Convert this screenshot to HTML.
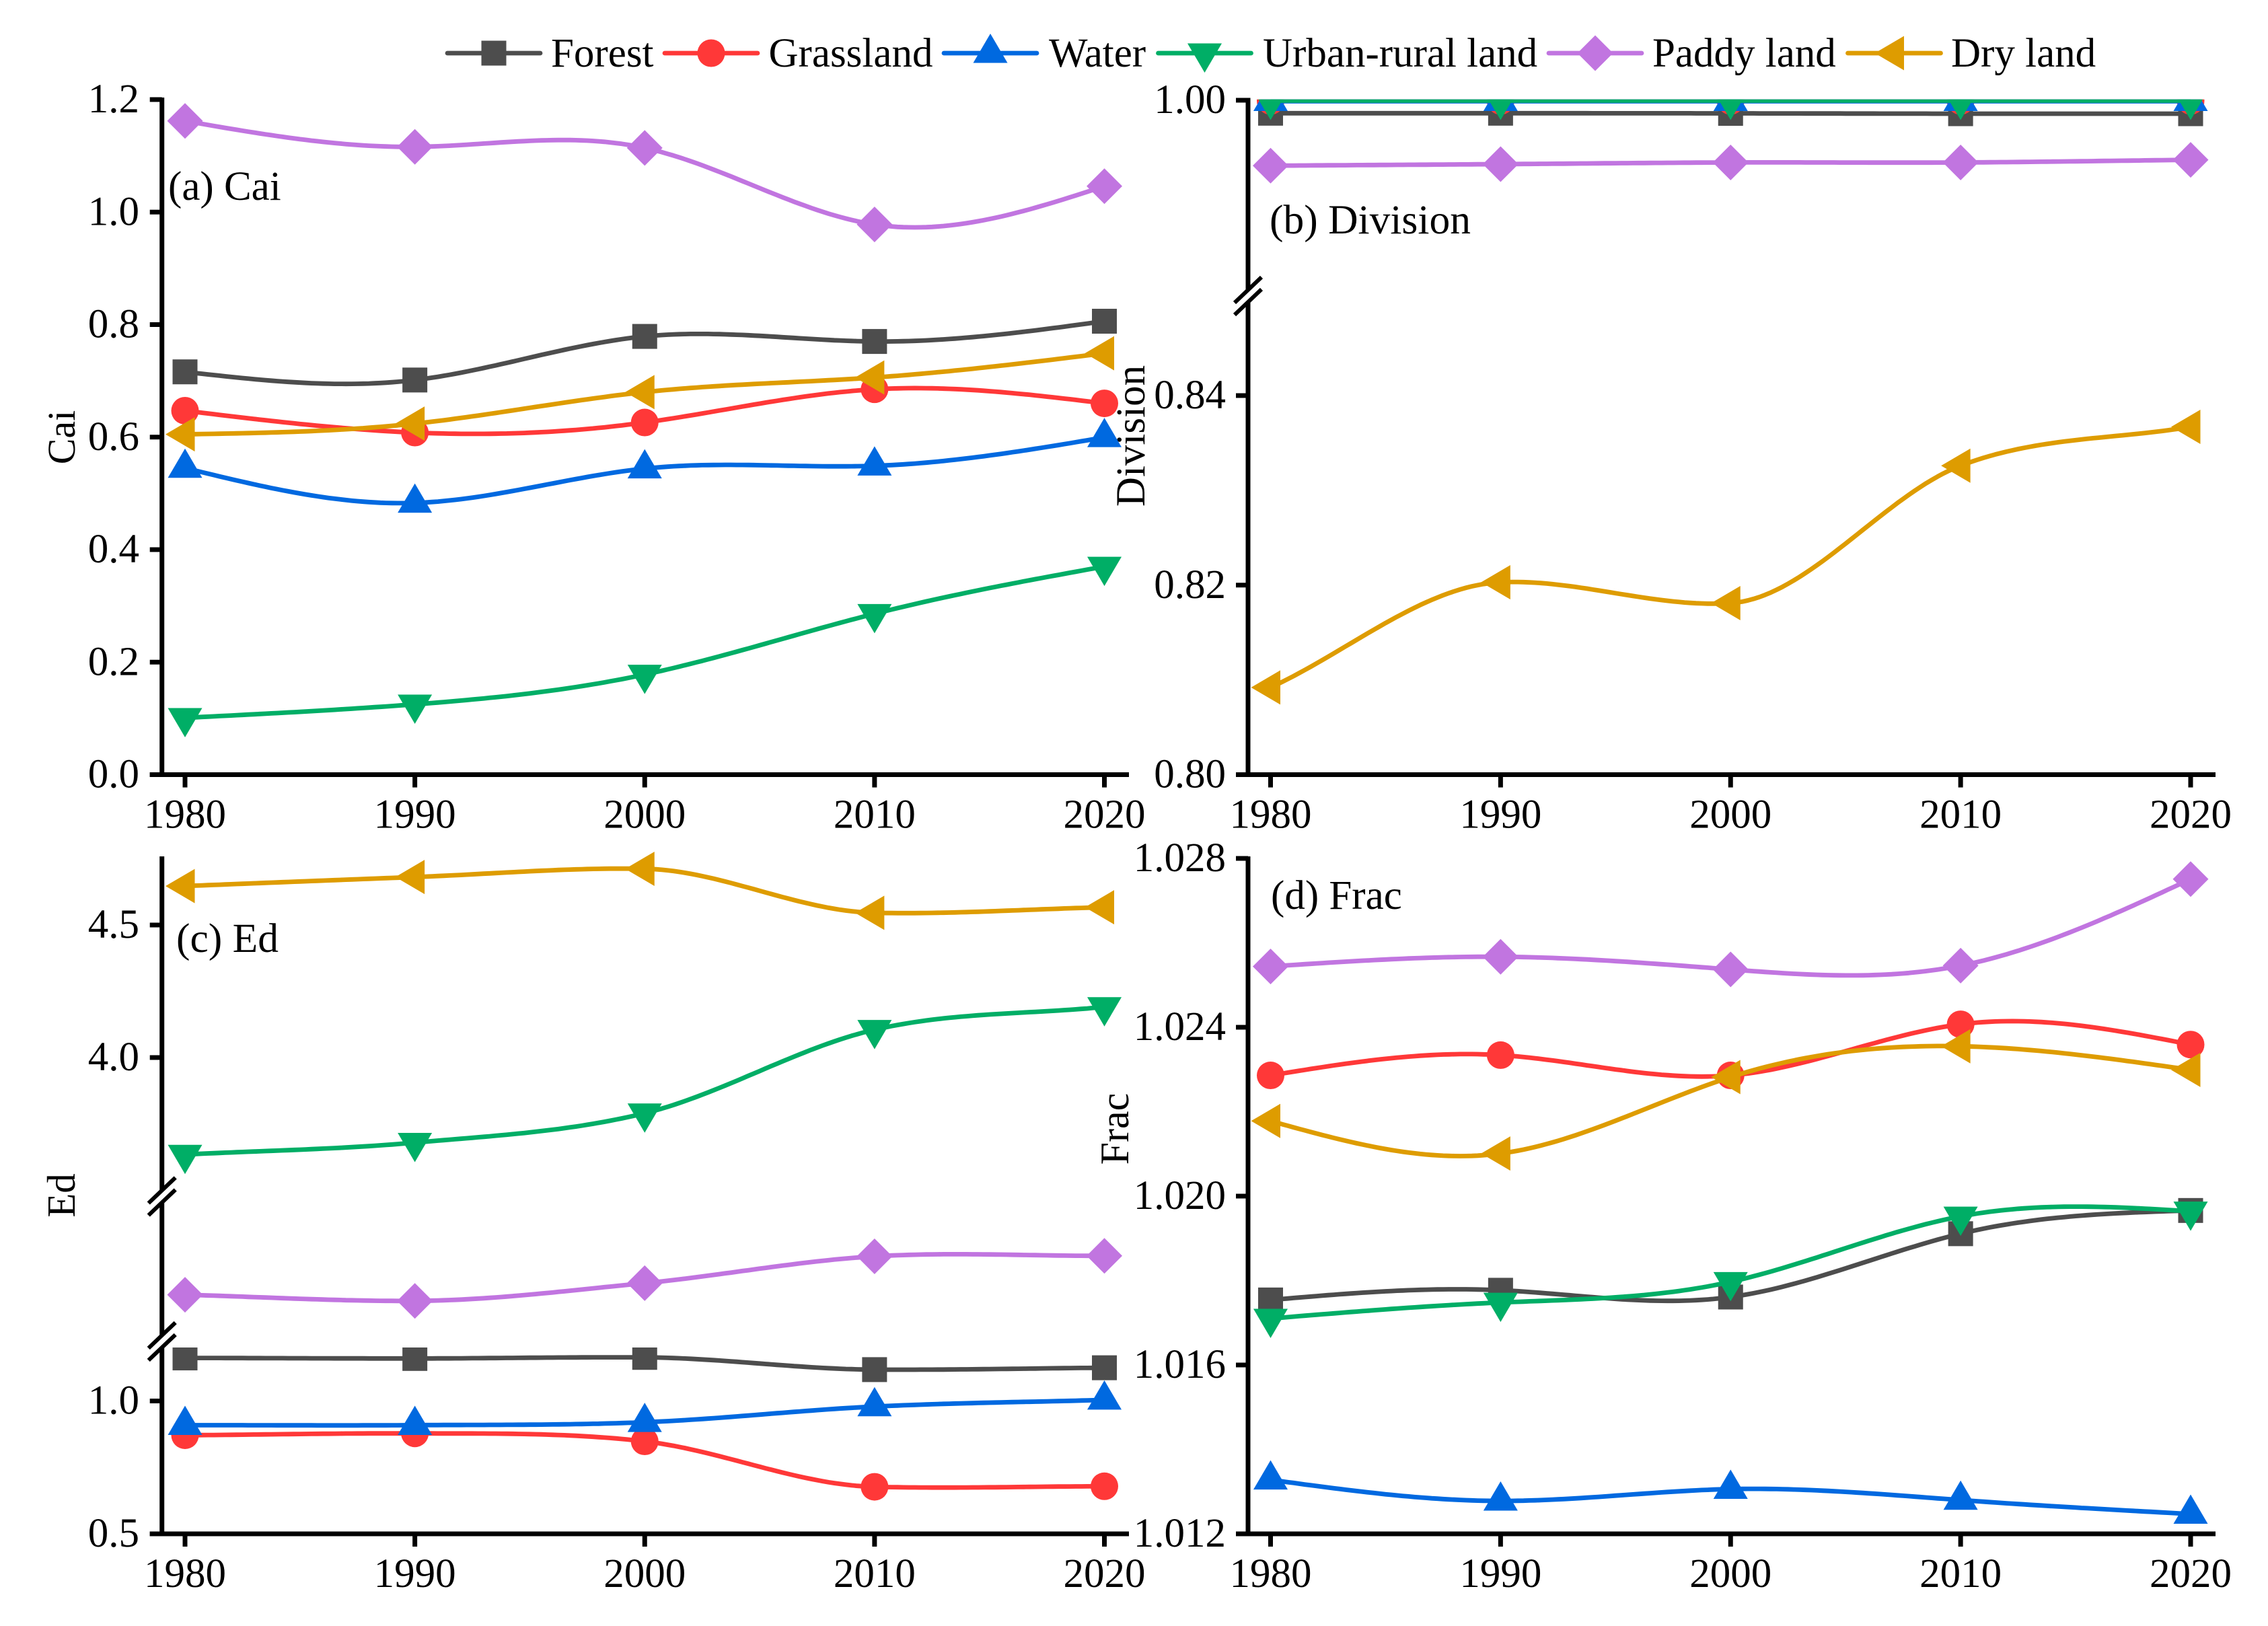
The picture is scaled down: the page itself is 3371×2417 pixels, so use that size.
<!DOCTYPE html>
<html lang="en">
<head>
<meta charset="utf-8">
<title>Landscape metrics by land type, 1980-2020</title>
<style>
html,body{margin:0;padding:0;background:#fff;}
svg{display:block;}
text{font-family:"Liberation Serif",serif;fill:#000;}
</style>
</head>
<body>
<svg id="chart" xmlns="http://www.w3.org/2000/svg" width="3371" height="2417" viewBox="0 0 3371 2417">
  <defs>
    <clipPath id="clip-b-upper"><rect x="1800" y="147.7" width="1571" height="1100"/></clipPath>
    <clipPath id="clip-c-lower"><rect x="180" y="2003" width="1500" height="400"/></clipPath>
  </defs>
  <rect x="0" y="0" width="3371" height="2417" fill="#ffffff"/>

  <g id="legend" font-size="61">
    <text x="819" y="99">Forest</text>
    <text x="1142.5" y="99">Grassland</text>
    <text x="1559" y="99">Water</text>
    <text x="1877" y="99">Urban-rural land</text>
    <text x="2456" y="99">Paddy land</text>
    <text x="2900" y="99">Dry land</text>
  </g>

  <text x="250" y="297" font-size="61">(a) Cai</text>
  <text x="1887" y="347" font-size="61.5">(b) Division</text>
  <text x="262" y="1415" font-size="61.5">(c) Ed</text>
  <text x="1889" y="1351" font-size="61">(d) Frac</text>

  <text transform="translate(111 650) rotate(-90)" text-anchor="middle" font-size="58">Cai</text>
  <text transform="translate(1701 648) rotate(-90)" text-anchor="middle" font-size="61">Division</text>
  <text transform="translate(111 1777) rotate(-90)" text-anchor="middle" font-size="59">Ed</text>
  <text transform="translate(1677 1678) rotate(-90)" text-anchor="middle" font-size="60">Frac</text>

  <g id="plots"></g>
</svg>

<script>
// ---- categories and tick labels ----
const years = ["1980", "1990", "2000", "2010", "2020"];
const yTickLabelsA = ["0.0", "0.2", "0.4", "0.6", "0.8", "1.0", "1.2"];
const yTickLabelsB = ["0.80", "0.82", "0.84", "1.00"];
const yTickLabelsC = ["0.5", "1.0", "4.0", "4.5"];
const yTickLabelsD = ["1.012", "1.016", "1.020", "1.024", "1.028"];

// ---- (a) Cai ----
const caiForest = [0.716, 0.7015, 0.779, 0.770, 0.806];
const caiGrassland = [0.647, 0.608, 0.626, 0.685, 0.660];
const caiWater = [0.545, 0.483, 0.544, 0.549, 0.5995];
const caiUrban = [0.101, 0.125, 0.178, 0.286, 0.370];
const caiPaddy = [1.162, 1.116, 1.114, 0.978, 1.046];
const caiDry = [0.605, 0.624, 0.680, 0.706, 0.749];

// ---- (b) Division ----
const divisionForest = [0.99807, 0.99807, 0.99805, 0.99800, 0.99800];
const divisionGrassland = [0.99990, 0.99990, 0.99990, 0.99990, 0.99990];
const divisionWater = [0.99985, 0.99985, 0.99985, 0.99985, 0.99985];
const divisionUrban = [0.99995, 0.99995, 0.99995, 0.99995, 0.99995];
const divisionPaddy = [0.99027, 0.99050, 0.99075, 0.99075, 0.99114];
const divisionDry = [0.8092, 0.8203, 0.8181, 0.8326, 0.8367];

// ---- (c) Ed ----
const edForest = [1.162, 1.160, 1.164, 1.118, 1.125];
const edGrassland = [0.871, 0.878, 0.848, 0.677, 0.679];
const edWater = [0.909, 0.909, 0.920, 0.979, 1.004];
const edUrban = [3.634, 3.679, 3.790, 4.105, 4.191];
const edPaddy = [2.176, 2.153, 2.220, 2.321, 2.323];
const edDry = [4.647, 4.681, 4.712, 4.546, 4.567];

// ---- (d) Frac ----
const fracForest = [1.01754, 1.01777, 1.01761, 1.01911, 1.01966];
const fracGrassland = [1.02286, 1.02334, 1.02286, 1.02407, 1.02359];
const fracWater = [1.01328, 1.01278, 1.01306, 1.01280, 1.01247];
const fracUrban = [1.01710, 1.01748, 1.01797, 1.01952, 1.01964];
const fracPaddy = [1.02544, 1.02567, 1.02537, 1.02546, 1.02751];
const fracDry = [1.02178, 1.02101, 1.02282, 1.02355, 1.02299];

// ---- rendering ----
const NS = "http://www.w3.org/2000/svg";
const plotsRoot = document.getElementById("plots");
const legendRoot = document.getElementById("legend");

const seriesKeys = ["forest", "grassland", "water", "urban-rural-land", "paddy-land", "dry-land"];
const seriesColors = ["#4d4d4d", "#ff3838", "#0069e0", "#00ae66", "#c175e0", "#de9c00"];
const seriesShapes = ["square", "circle", "up", "down", "diamond", "left"];

function make(tag, attrs, parent) {
  const el = document.createElementNS(NS, tag);
  for (const k in attrs) el.setAttribute(k, attrs[k]);
  parent.appendChild(el);
  return el;
}
function lin(v, v0, p0, v1, p1) {
  return p0 + (v - v0) * (p1 - p0) / (v1 - v0);
}

// axis functions
const xLeft = y => lin(parseFloat(y), 1980, 275, 2020, 1641.5);
const xRight = y => lin(parseFloat(y), 1980, 1888.5, 2020, 3256);
const yA = v => lin(v, 0, 1151.5, 1.2, 148);
const yB = v => v > 0.9 ? lin(v, 1, 149, 0.99, 249) : lin(v, 0.8, 1151.5, 0.84, 588);
const yC = v => v >= 3 ? lin(v, 4, 1572, 4.5, 1375)
              : v >= 1.6 ? lin(v, 2, 1994, 2.5, 1797)
              : lin(v, 0.5, 2280, 1, 2082.5);
const yD = v => lin(v, 1.012, 2280, 1.028, 1276);

// natural cubic spline through the mapped points, sampled for drawing
function splinePath(px, py) {
  const n = px.length;
  const h = [], a = new Array(n).fill(0), l = new Array(n).fill(1), mu = new Array(n).fill(0), z = new Array(n).fill(0), c = new Array(n).fill(0);
  for (let i = 0; i < n - 1; i++) h[i] = px[i + 1] - px[i];
  for (let i = 1; i < n - 1; i++) {
    a[i] = 3 * (py[i + 1] - py[i]) / h[i] - 3 * (py[i] - py[i - 1]) / h[i - 1];
    l[i] = 2 * (px[i + 1] - px[i - 1]) - h[i - 1] * mu[i - 1];
    mu[i] = h[i] / l[i];
    z[i] = (a[i] - h[i - 1] * z[i - 1]) / l[i];
  }
  for (let j = n - 2; j >= 0; j--) c[j] = z[j] - mu[j] * c[j + 1];
  let d = "M" + px[0].toFixed(1) + " " + py[0].toFixed(1);
  for (let j = 0; j < n - 1; j++) {
    const b = (py[j + 1] - py[j]) / h[j] - h[j] * (c[j + 1] + 2 * c[j]) / 3;
    const e = (c[j + 1] - c[j]) / (3 * h[j]);
    for (let s = 1; s <= 40; s++) {
      const t = s / 40 * h[j];
      const v = py[j] + b * t + c[j] * t * t + e * t * t * t;
      d += "L" + (px[j] + t).toFixed(1) + " " + v.toFixed(1);
    }
  }
  return d;
}

// Hermite curve with slopes damped at local extrema (used by the broken-axis panels)
function dampedPath(px, py) {
  const n = px.length;
  const m = [];
  for (let i = 0; i < n - 1; i++) m[i] = (py[i + 1] - py[i]) / (px[i + 1] - px[i]);
  const t = [m[0]];
  for (let i = 1; i < n - 1; i++) {
    const avg = (m[i - 1] + m[i]) / 2;
    t[i] = m[i - 1] * m[i] < 0 ? avg * 0.25 : avg;
  }
  t[n - 1] = m[n - 2];
  let d = "M" + px[0].toFixed(1) + " " + py[0].toFixed(1);
  for (let j = 0; j < n - 1; j++) {
    const h = px[j + 1] - px[j];
    for (let s = 1; s <= 40; s++) {
      const u = s / 40;
      const h00 = 2 * u * u * u - 3 * u * u + 1, h10 = u * u * u - 2 * u * u + u;
      const h01 = -2 * u * u * u + 3 * u * u, h11 = u * u * u - u * u;
      const v = h00 * py[j] + h10 * h * t[j] + h01 * py[j + 1] + h11 * h * t[j + 1];
      d += "L" + (px[j] + u * h).toFixed(1) + " " + v.toFixed(1);
    }
  }
  return d;
}

function marker(shape, x, y, color, parent) {
  if (shape === "square") return make("rect", { x: x - 18.5, y: y - 18.5, width: 37, height: 37, fill: color }, parent);
  if (shape === "circle") return make("circle", { cx: x, cy: y, r: 20.5, fill: color }, parent);
  let pts;
  if (shape === "up") pts = [[x, y - 29], [x + 25.5, y + 14.5], [x - 25.5, y + 14.5]];
  if (shape === "down") pts = [[x, y + 29], [x + 25.5, y - 14.5], [x - 25.5, y - 14.5]];
  if (shape === "left") pts = [[x - 29, y], [x + 14.5, y - 25.5], [x + 14.5, y + 25.5]];
  if (shape === "diamond") pts = [[x, y - 26.5], [x + 26.5, y], [x, y + 26.5], [x - 26.5, y]];
  return make("polygon", { points: pts.map(p => p.join(",")).join(" "), fill: color }, parent);
}

function axisLine(x1, y1, x2, y2, parent) {
  return make("line", { x1: x1, y1: y1, x2: x2, y2: y2, stroke: "#000", "stroke-width": 7 }, parent);
}

function breakMark(cx, cy, parent) {
  const g = make("g", {}, parent);
  
  
  make("line", { x1: cx - 20, y1: cy + 10, x2: cx + 20, y2: cy - 28, stroke: "#000", "stroke-width": 6 }, g);
  make("line", { x1: cx - 20, y1: cy + 28, x2: cx + 20, y2: cy - 10, stroke: "#000", "stroke-width": 6 }, g);
}

function drawPanel(id, xFn, yFn, axisX, axisY, axisRight, axisTop, yLabelRight, yTickLabels, columns, breaks, pathFn, clipFn) {
  const g = make("g", {}, plotsRoot);
  
  

  // y axis (with gaps at the break marks)
  let top = axisTop;
  const yAxisGroup = make("g", {}, g);
  
  
  breaks.forEach(b => {
    axisLine(axisX, top, axisX, b - 9, yAxisGroup);
    top = b + 9;
  });
  axisLine(axisX, top, axisX, axisY + 3, yAxisGroup);

  // x axis
  const xAxisGroup = make("g", {}, g);
  
  
  axisLine(axisX - 18, axisY, axisRight, axisY, xAxisGroup);
  years.forEach(label => {
    const x = xFn(label);
    const tick = axisLine(x, axisY, x, axisY + 19, xAxisGroup);
    
    
    const t = make("text", { x: x, y: axisY + 79, "font-size": 61, "text-anchor": "middle" }, xAxisGroup);
    t.textContent = label;
    
    
  });

  yTickLabels.forEach(label => {
    const y = yFn(parseFloat(label));
    const tick = axisLine(axisX - 18, y, axisX, y, yAxisGroup);
    
    
    const t = make("text", { x: yLabelRight, y: y + 19, "font-size": 61, "text-anchor": "end" }, yAxisGroup);
    t.textContent = label;
    
    
  });

  breaks.forEach(b => breakMark(axisX, b, g));

  // series
  columns.forEach((values, i) => {
    const sg = make("g", {}, g);
    
    
    const clip = clipFn(values);
    if (clip) sg.setAttribute("clip-path", "url(#" + clip + ")");
    const px = years.map(xFn);
    const py = values.map(yFn);
    const line = make("path", { d: pathFn(px, py), fill: "none", stroke: seriesColors[i], "stroke-width": 6.8, "stroke-linejoin": "round" }, sg);
    
    
    px.forEach((x, j) => {
      const m = marker(seriesShapes[i], x, py[j], seriesColors[i], sg);
      
      
    });
  });
}

const noClip = () => null;
drawPanel("a", xLeft, yA, 240.7, 1151.5, 1678, 145, 207, yTickLabelsA,
  [caiForest, caiGrassland, caiWater, caiUrban, caiPaddy, caiDry], [], splinePath, noClip);
drawPanel("b", xRight, yB, 1855, 1151.5, 3293, 145.5, 1822, yTickLabelsB,
  [divisionForest, divisionGrassland, divisionWater, divisionUrban, divisionPaddy, divisionDry], [440], dampedPath, () => "clip-b-upper");
drawPanel("c", xLeft, yC, 240.7, 2280, 1678, 1273, 207, yTickLabelsC,
  [edForest, edGrassland, edWater, edUrban, edPaddy, edDry], [1778.5, 1994], dampedPath, values => Math.max(...values) < 1.6 ? "clip-c-lower" : null);
drawPanel("d", xRight, yD, 1855, 2280, 3293, 1273, 1822, yTickLabelsD,
  [fracForest, fracGrassland, fracWater, fracUrban, fracPaddy, fracDry], [], splinePath, noClip);

// legend keys
const legendCenters = [734, 1057, 1472, 1790.5, 2371, 2815.5];
seriesKeys.forEach((key, i) => {
  const cx = legendCenters[i];
  const k = make("g", {}, legendRoot);
  
  
  make("line", { x1: cx - 69, y1: 79, x2: cx + 69, y2: 79, stroke: seriesColors[i], "stroke-width": 6.8, "stroke-linecap": "round" }, k);
  marker(seriesShapes[i], cx, 79, seriesColors[i], k);
});
</script>
</body>
</html>
